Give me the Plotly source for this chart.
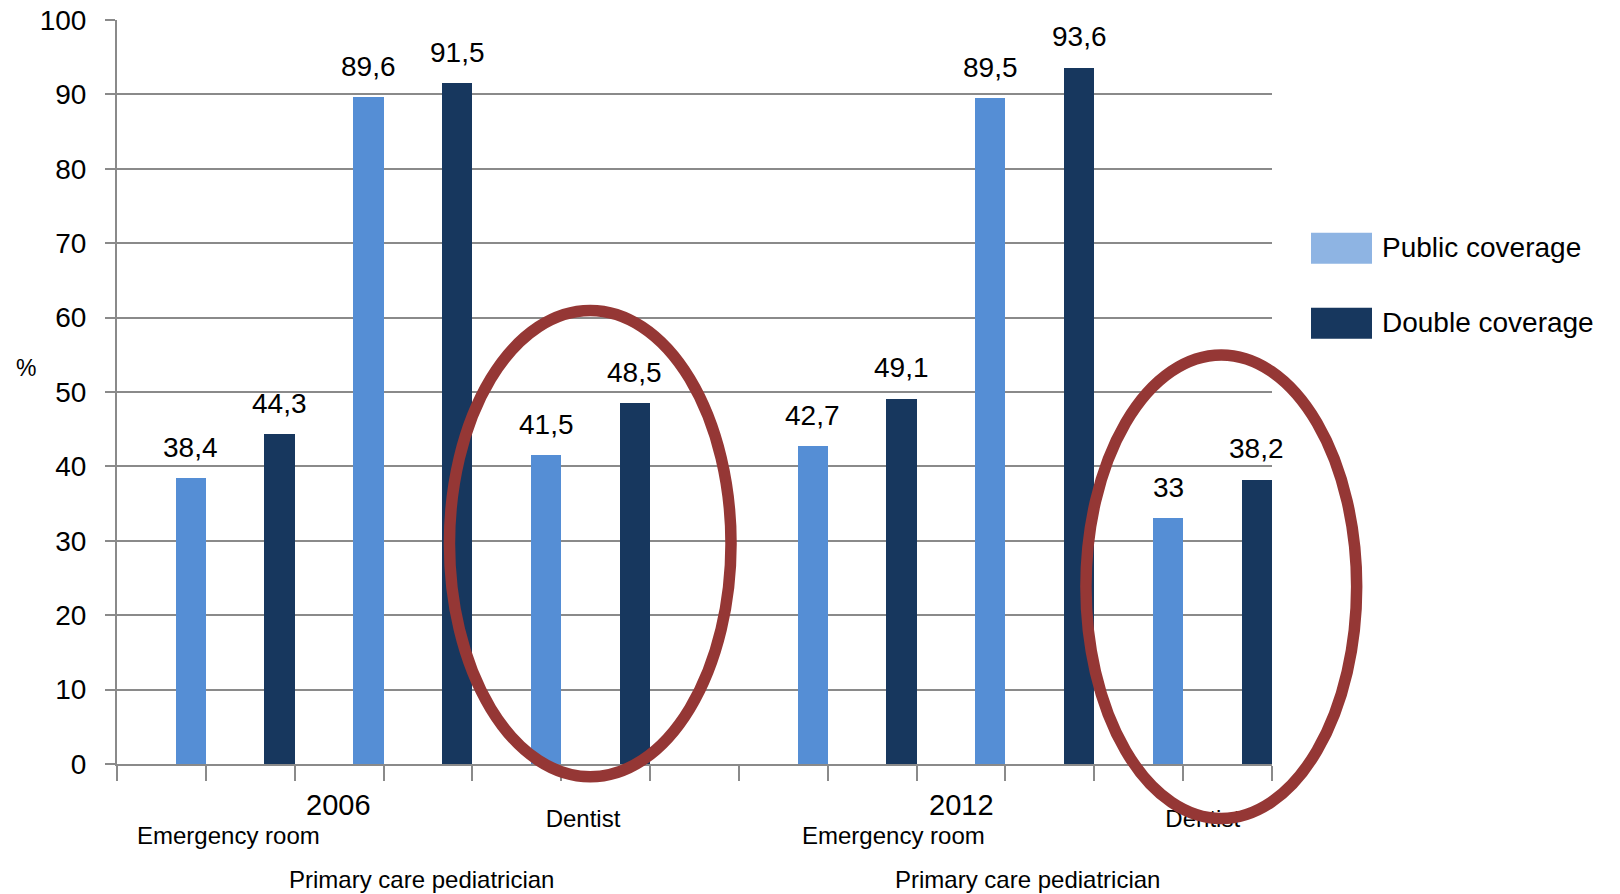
import plotly.graph_objects as go

# ---------------- data ----------------
groups = ["2006", "2012"]
categories = ["Emergency room", "Primary care pediatrician", "Dentist"]
series_names = ["Public coverage", "Double coverage"]
public_values = [38.4, 89.6, 41.5, 42.7, 89.5, 33.0]
double_values = [44.3, 91.5, 48.5, 49.1, 93.6, 38.2]
y_ticks = [0, 10, 20, 30, 40, 50, 60, 70, 80, 90, 100]
y_title = "%"

# ---------------- layout constants ----------------
W, H = 1620, 894
L, R, T, B = 117, 348, 20, 130
N_SLOTS = 13            # category slots on the axis
SLOTS_PER_GROUP = 7     # 6 bars + 1 empty slot
BAR_OFFSET = 0.83       # bar centre within its slot
BAR_WIDTH = 0.34
FONT = "Liberation Sans"
C_PUBLIC = "#558ED5"
C_PUBLIC_LEG = "#8EB4E3"
C_DOUBLE = "#17375E"
C_GRID = "#8A8A8A"
C_RING = "#953735"

plot_w = W - L - R
plot_h = H - T - B


def px_to_paper_x(px):
    return (px - L) / plot_w


def px_to_paper_y(py):
    return (H - B - py) / plot_h


def fmt(v):
    return ("%g" % v).replace(".", ",")


# bar positions derived from group/category/series indices
pub_x, dbl_x = [], []
for g in range(len(groups)):
    for c in range(len(categories)):
        base = g * SLOTS_PER_GROUP + c * 2
        pub_x.append(base + BAR_OFFSET)
        dbl_x.append(base + 1 + BAR_OFFSET)

fig = go.Figure()
fig.add_trace(go.Bar(x=pub_x, y=public_values, width=BAR_WIDTH, name=series_names[0],
                     marker=dict(color=C_PUBLIC, line=dict(width=0)), showlegend=False))
fig.add_trace(go.Bar(x=dbl_x, y=double_values, width=BAR_WIDTH, name=series_names[1],
                     marker=dict(color=C_DOUBLE, line=dict(width=0)), showlegend=False))
# invisible trace to activate the label axis
fig.add_trace(go.Scatter(x=[None], y=[None], xaxis="x2", showlegend=False, hoverinfo="skip"))

annotations = []
# data labels
for xs, vals in ((pub_x, public_values), (dbl_x, double_values)):
    for x, v in zip(xs, vals):
        annotations.append(dict(x=x, y=v, xref="x", yref="y", text=fmt(v), showarrow=False,
                                yanchor="bottom", xanchor="center", yshift=13.5,
                                font=dict(family=FONT, size=28, color="black")))

# category / group labels (Excel-style staggered placement)
year_pos = [2.49, 9.50]
er_pos = [1.25, 8.745]
pcp_pos = [3.43, 10.25]
dentist_pos = [5.245, 12.22]
for g in range(len(groups)):
    annotations.append(dict(x=year_pos[g], y=px_to_paper_y(805), xref="x", yref="paper",
                            text=groups[g], showarrow=False, yanchor="middle",
                            font=dict(family=FONT, size=29, color="black")))
    annotations.append(dict(x=er_pos[g], y=px_to_paper_y(835), xref="x", yref="paper",
                            text=categories[0], showarrow=False, yanchor="middle",
                            font=dict(family=FONT, size=24, color="black")))
    annotations.append(dict(x=pcp_pos[g], y=px_to_paper_y(879.5), xref="x", yref="paper",
                            text=categories[1], showarrow=False, yanchor="middle",
                            font=dict(family=FONT, size=24, color="black")))

# y axis title
annotations.append(dict(x=px_to_paper_x(26), y=px_to_paper_y(368), xref="paper", yref="paper",
                        text=y_title, showarrow=False, xanchor="center", yanchor="middle",
                        font=dict(family=FONT, size=23, color="black")))

# legend (manual, large swatches)
shapes = []
leg_colors = [C_PUBLIC_LEG, C_DOUBLE]
leg_tops = [232.7, 307.7]
for name, col, top in zip(series_names, leg_colors, leg_tops):
    shapes.append(dict(type="rect", xref="paper", yref="paper",
                       x0=px_to_paper_x(1311), x1=px_to_paper_x(1372),
                       y0=px_to_paper_y(top + 31), y1=px_to_paper_y(top),
                       fillcolor=col, line=dict(width=0)))
    annotations.append(dict(x=px_to_paper_x(1380), y=px_to_paper_y(top + 15), xref="paper",
                            yref="paper", text=name, showarrow=False, xanchor="left",
                            yanchor="middle", font=dict(family=FONT, size=28, color="black")))

# highlight rings around the Dentist bars (in axis units, converted to paper)
rings = [(3.742, 6.911, -1.71, 60.95), (10.906, 13.953, -7.33, 54.97)]
for x0, x1, y0, y1 in rings:
    shapes.append(dict(type="circle", xref="paper", yref="paper", layer="above",
                       x0=x0 / N_SLOTS, x1=x1 / N_SLOTS, y0=y0 / 100, y1=y1 / 100,
                       line=dict(color=C_RING, width=11.5), fillcolor="rgba(0,0,0,0)"))

fig.update_layout(
    width=W, height=H,
    margin=dict(l=L, r=R, t=T, b=B, pad=0, autoexpand=False),
    paper_bgcolor="white", plot_bgcolor="white",
    barmode="overlay", bargap=0,
    font=dict(family=FONT, size=28, color="black"),
    xaxis=dict(range=[0, N_SLOTS], tickvals=list(range(N_SLOTS + 1)), showticklabels=False,
               ticks="outside", ticklen=15, tickwidth=2, tickcolor=C_GRID, automargin=False,
               showline=True, linecolor=C_GRID, linewidth=2, showgrid=False, zeroline=False,
               fixedrange=True),
    xaxis2=dict(range=[0, N_SLOTS], overlaying="x", anchor="y", side="bottom", automargin=False,
                tickvals=dentist_pos, ticktext=[categories[2]] * len(dentist_pos),
                ticks="", showline=False, showgrid=False, zeroline=False,
                tickfont=dict(family=FONT, size=24, color="black"), ticklabelstandoff=38),
    yaxis=dict(range=[0, 100], tickvals=y_ticks, ticks="outside", ticklen=10, tickwidth=2,
               tickcolor=C_GRID, showline=True, linecolor=C_GRID, linewidth=2, automargin=False,
               showgrid=True, gridcolor=C_GRID, gridwidth=2, zeroline=False,
               tickfont=dict(family=FONT, size=28, color="black"), ticklabelstandoff=13),
    annotations=annotations,
    shapes=shapes,
)

fig.write_html("out.html")
